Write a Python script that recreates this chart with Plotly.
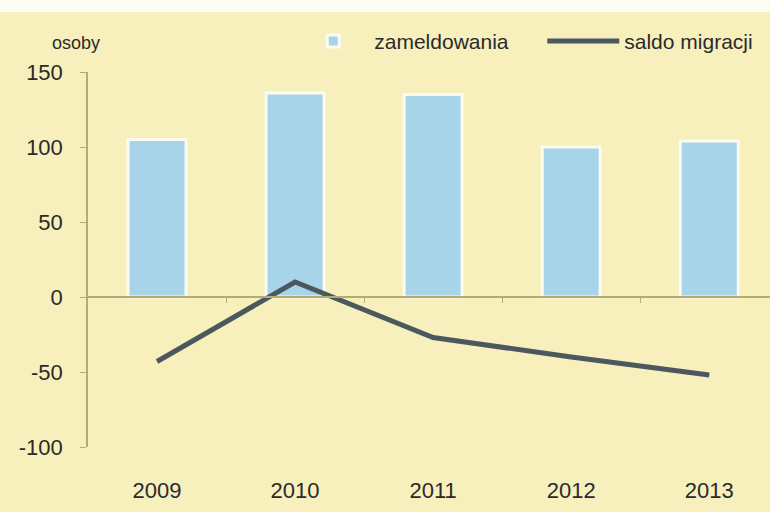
import plotly.graph_objects as go

years = ["2009", "2010", "2011", "2012", "2013"]
zameldowania = [105, 136, 135, 100, 104]
saldo_migracji = [-43, 10, -27, -40, -52]
y_ticks = [-100, -50, 0, 50, 100, 150]
y_tick_labels = ["-100", "-50", "0", "50", "100", "150"]

BG = "#f7efbc"
AXIS = "#b3ac72"
TXT = "#2a2a2a"

fig = go.Figure()
fig.add_trace(go.Bar(
    x=years, y=zameldowania, name="zameldowania",
    marker=dict(color="#a8d4ea", line=dict(color="#fbfbf0", width=3)),
    width=0.42, legendwidth=163,
))
fig.add_trace(go.Scatter(
    x=years, y=saldo_migracji, name="saldo migracji", mode="lines",
    line=dict(color="#4b595e", width=5),
))
# boundary tick marks along the zero line
fig.add_trace(go.Scatter(x=[None], y=[None], xaxis="x2", showlegend=False))

fig.update_layout(
    width=770, height=512,
    paper_bgcolor=BG, plot_bgcolor=BG,
    margin=dict(l=88, r=0, t=72, b=65),
    font=dict(family="Liberation Sans, Arial, sans-serif", size=20, color=TXT),
    showlegend=True,
    legend=dict(orientation="h", x=0.2995, y=1.082, xanchor="left", yanchor="middle",
                bgcolor="rgba(0,0,0,0)", font=dict(size=21), itemwidth=72),
    xaxis=dict(type="category", range=[-0.5, 4.44], showline=False, ticks="",
               showgrid=False, zeroline=False, ticklabelstandoff=28,
               tickfont=dict(size=22)),
    xaxis2=dict(overlaying="x", anchor="free", position=0.4, range=[-0.5, 4.44],
                tickvals=[0.5, 1.5, 2.5, 3.5], showticklabels=False,
                ticks="outside", ticklen=5, tickcolor=AXIS, showline=True,
                linecolor=AXIS, linewidth=1.5, showgrid=False, zeroline=False),
    yaxis=dict(range=[-100, 150], tickvals=y_ticks, ticktext=y_tick_labels,
               showline=True, linecolor=AXIS,
               linewidth=1.5, ticks="outside", ticklen=6, tickcolor=AXIS,
               showgrid=False, zeroline=False, tickfont=dict(size=22),
               ticklabelstandoff=13),
    annotations=[dict(text="osoby", xref="paper", yref="paper", x=-0.055, y=1.076,
                      xanchor="left", yanchor="middle", showarrow=False,
                      font=dict(size=18, color=TXT))],
    shapes=[dict(type="rect", xref="paper", yref="paper", x0=-0.2, x1=1.1,
                 y0=1.16, y1=1.3, fillcolor="#fdfcf4", line=dict(width=0),
                 layer="below")],
)

fig.write_html("out.html", config={"displayModeBar": False},
               post_script="document.body.style.margin='0';document.body.style.background='#f7efbc';")
